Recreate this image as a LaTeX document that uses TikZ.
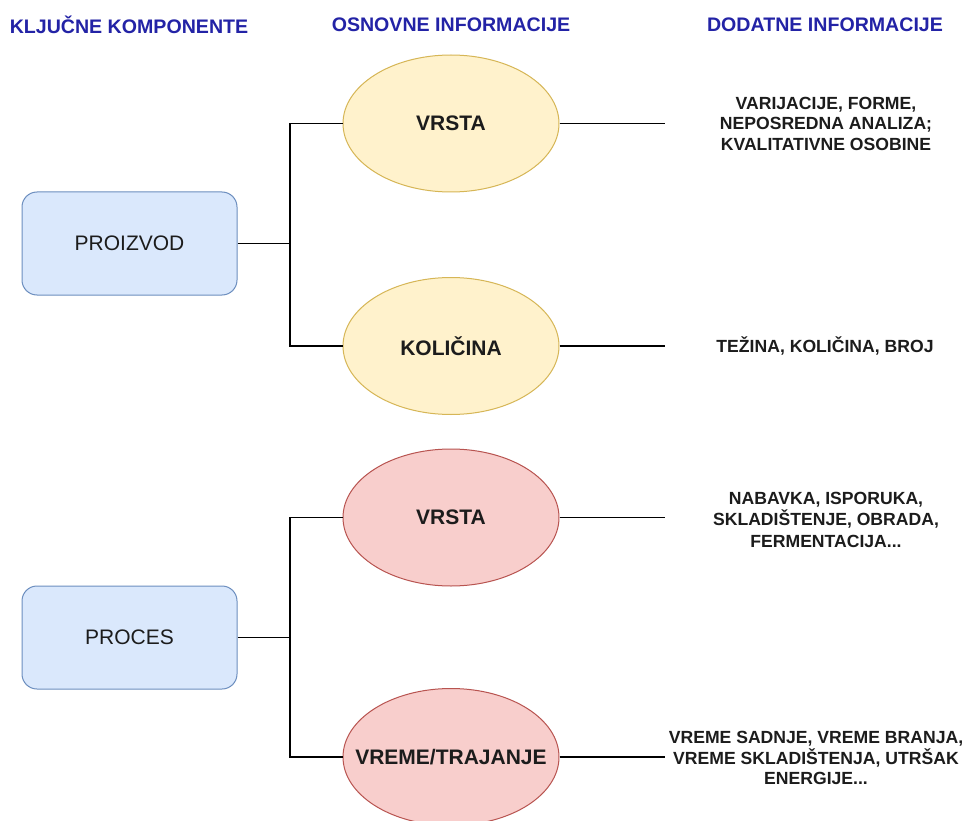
\documentclass[tikz,border=0pt]{standalone}
\usepackage{fontspec}
\setmainfont{Liberation Sans}
\usetikzlibrary{shapes.geometric}
\definecolor{hdrblue}{HTML}{2323A6}
\definecolor{boxfill}{HTML}{DAE8FC}
\definecolor{boxline}{HTML}{6C8EBF}
\definecolor{yelfill}{HTML}{FFF2CC}
\definecolor{yelline}{HTML}{D6B656}
\definecolor{redfill}{HTML}{F8CECC}
\definecolor{redline}{HTML}{B85450}
\definecolor{ink}{HTML}{1C1C1C}
\begin{document}
\begin{tikzpicture}[x=1pt,y=-1pt,
  header/.style={font=\fontsize{19.6}{22}\selectfont\bfseries, text=hdrblue, inner sep=0pt},
  component/.style={draw=boxline, fill=boxfill, rounded corners=15pt, line width=1pt,
    minimum width=215pt, minimum height=103pt, inner sep=0pt,
    font=\fontsize{21}{24}\selectfont, text=ink},
  infoyel/.style={ellipse, draw=yelline, fill=yelfill, line width=1pt,
    minimum width=216pt, minimum height=137pt, inner sep=0pt,
    label={[font=\fontsize{21}{24}\selectfont\bfseries, text=ink, inner sep=0pt]center:#1}},
  infored/.style={infoyel=#1, draw=redline, fill=redfill},
  detail/.style={align=center, inner sep=0pt, text=ink,
    font=\fontsize{17.6}{20.5}\selectfont\bfseries},
  link/.style={draw=black, line width=1.3pt}
]
\useasboundingbox (0,0) rectangle (966,821);
\fill[white] (0,0) rectangle (966,821);

% column headings
\node[header] (h1) at (129,25) {KLJUČNE KOMPONENTE};
\node[header] (h2) at (451,25) {OSNOVNE INFORMACIJE};
\node[header] (h3) at (825,25) {DODATNE INFORMACIJE};

% key components
\node[component] (prod) at (129.5,243.5) {PROIZVOD};
\node[component] (proc) at (129.5,637.5) {PROCES};

% basic information (fixed-size ellipses, label set on top)
\node[infoyel=VRSTA] (vrsta1) at (451,123.5) {};
\node[infoyel=KOLIČINA] (kol) at (451,346) {};
\node[infored=VRSTA] (vrsta2) at (451,517.5) {};
\node[infored=VREME/TRAJANJE] (vreme) at (451,757) {};

% additional information
\node[detail] (d1) at (826,123.5) {VARIJACIJE, FORME,\\NEPOSREDNA ANALIZA;\\KVALITATIVNE OSOBINE};
\node[detail] (d2) at (825,346) {TEŽINA, KOLIČINA, BROJ};
\node[detail, font=\fontsize{17.6}{21.5}\selectfont\bfseries] (d3) at (826,519.5) {NABAVKA, ISPORUKA,\\SKLADIŠTENJE, OBRADA,\\FERMENTACIJA...};
\node[detail] (d4) at (816,758) {VREME SADNJE, VREME BRANJA,\\VREME SKLADIŠTENJA, UTRŠAK\\ENERGIJE...};

% junctions and free ends
\coordinate (j1) at (290,243.5);
\coordinate (j2) at (290,637.5);
\coordinate (r1) at (665,123.5);
\coordinate (r2) at (665,346);
\coordinate (r3) at (665,517.5);
\coordinate (r4) at (665,757);

% tree connectors
\draw[link] (prod.east) -- (j1);
\draw[link] (vrsta1.west) -- (vrsta1.west -| j1) -- (kol.west -| j1) -- (kol.west);
\draw[link] (proc.east) -- (j2);
\draw[link] (vrsta2.west) -- (vrsta2.west -| j2) -- (vreme.west -| j2) -- (vreme.west);

\draw[link] (vrsta1.east) -- (r1);
\draw[link] (kol.east) -- (r2);
\draw[link] (vrsta2.east) -- (r3);
\draw[link] (vreme.east) -- (r4);
\end{tikzpicture}
\end{document}
